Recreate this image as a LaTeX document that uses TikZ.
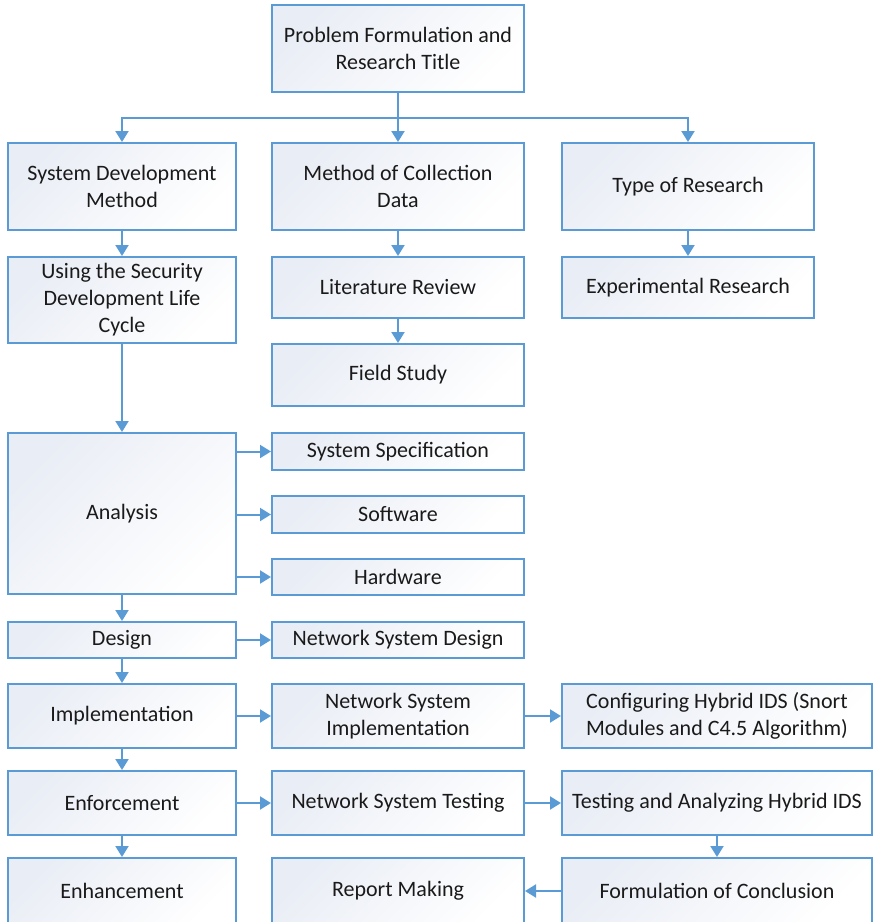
\documentclass[tikz,border=0pt]{standalone}
\usepackage{fontspec}
\setmainfont{Carlito}
\usetikzlibrary{arrows.meta,calc}
\definecolor{boxblue}{HTML}{5B9BD5}
\definecolor{gradc}{HTML}{E9EDF5}
\definecolor{txt}{HTML}{1A1A1A}
\tikzset{
  box/.style={draw=boxblue, line width=2pt, top color=gradc, bottom color=white, shading angle=45,
    inner sep=0pt, align=center, text=txt, font=\fontsize{22}{27}\selectfont},
  conn/.style={draw=boxblue, line width=2pt},
  arr/.style={conn, -{Triangle[width=13pt,length=11pt]}}
}
\newcommand{\bx}[6]{\node[box, minimum width={#3-#2}, minimum height={#5-#4}] (#1) at ({(#2+#3)/2},{(#4+#5)/2}) {#6};}
\begin{document}
\begin{tikzpicture}[x=1pt,y=-1pt]
\useasboundingbox (0,0) rectangle (873,922);
\bx{top}{272}{524}{5}{92}{Problem Formulation and\\Research Title}
\bx{sdm}{8}{236}{143}{230}{System Development\\Method}
\bx{mcd}{272}{524}{143}{230}{Method of Collection\\Data}
\bx{tor}{562}{814}{143}{230}{Type of Research}
\bx{sdlc}{8}{236}{257}{343}{Using the Security\\Development Life\\Cycle}
\bx{lit}{272}{524}{257}{318}{Literature Review}
\bx{exp}{562}{814}{257}{318}{Experimental Research}
\bx{field}{272}{524}{344}{406}{Field Study}
\bx{ana}{8}{236}{433}{594}{Analysis}
\bx{spec}{272}{524}{433}{470}{System Specification}
\bx{soft}{272}{524}{496}{533}{Software}
\bx{hard}{272}{524}{559}{595}{Hardware}
\bx{des}{8}{236}{622}{658}{Design}
\bx{nsd}{272}{524}{622}{658}{Network System Design}
\bx{impl}{8}{236}{684}{748}{Implementation}
\bx{nsi}{272}{524}{684}{748}{Network System\\Implementation}
\bx{conf}{562}{872}{684}{748}{Configuring Hybrid IDS (Snort\\Modules and C4.5 Algorithm)}
\bx{enf}{8}{236}{771}{835}{Enforcement}
\bx{nst}{272}{524}{771}{835}{Network System Testing}
\bx{tah}{562}{872}{771}{835}{Testing and Analyzing Hybrid IDS}
\bx{enh}{8}{236}{858}{924}{Enhancement}
\bx{rep}{272}{524}{858}{924}{Report Making}
\bx{form}{562}{872}{858}{924}{Formulation of Conclusion}
\coordinate (br) at (398,118);
\draw[conn] (top.south) -- (br);
\draw[arr] (br) -- (mcd.north);
\draw[arr] (br) -| (sdm.north);
\draw[arr] (br) -| (tor.north);
\draw[arr] (sdm) -- (sdlc);
\draw[arr] (mcd) -- (lit);
\draw[arr] (lit) -- (field);
\draw[arr] (tor) -- (exp);
\draw[arr] (sdlc) -- (ana);
\draw[arr] (ana.east |- spec) -- (spec.west);
\draw[arr] (ana.east |- soft) -- (soft.west);
\draw[arr] (ana.east |- hard) -- (hard.west);
\draw[arr] (ana) -- (des);
\draw[arr] (des) -- (nsd);
\draw[arr] (des) -- (impl);
\draw[arr] (impl) -- (nsi);
\draw[arr] (nsi) -- (conf);
\draw[arr] (impl) -- (enf);
\draw[arr] (enf) -- (nst);
\draw[arr] (nst) -- (tah);
\draw[arr] (enf) -- (enh);
\draw[arr] (tah) -- (form);
\draw[arr] (form) -- (rep);
\end{tikzpicture}
\end{document}
